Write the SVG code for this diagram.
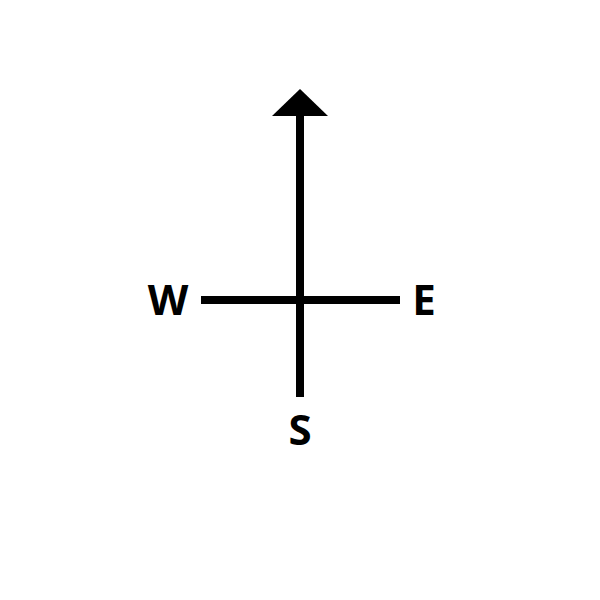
<svg xmlns="http://www.w3.org/2000/svg" width="600" height="600" viewBox="0 0 600 600">
<style>
.lbl{font-family:"Open Sans","Liberation Sans",sans-serif;font-weight:bold;font-size:42px;fill:#000}
.ln{stroke:#000;stroke-width:8;fill:none}
</style>
<rect width="600" height="600" fill="#fff"/>
<g id="connectors">
<line class="ln" x1="300" y1="112" x2="300" y2="397"/>
<line class="ln" x1="201" y1="300" x2="400" y2="300"/>
<polygon points="300,89 328,116 272,116" fill="#000"/>
</g>
<g id="W"><text class="lbl" x="168" y="315" text-anchor="middle">W</text></g>
<g id="E"><text class="lbl" x="424" y="315" text-anchor="middle">E</text></g>
<g id="S"><text class="lbl" x="300" y="445" text-anchor="middle">S</text></g>
</svg>
